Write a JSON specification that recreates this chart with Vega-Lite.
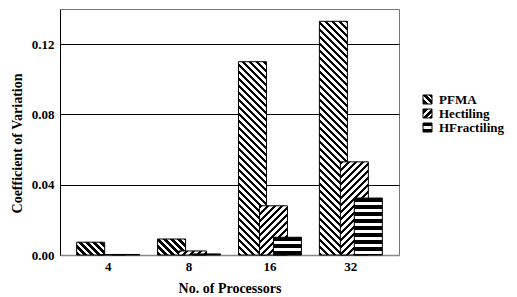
{
  "$schema": "https://vega.github.io/schema/vega-lite/v6.json",
  "width": 339,
  "height": 246,
  "autosize": {"type": "none"},
  "padding": {"left": 60, "top": 9, "right": 118, "bottom": 42},
  "background": "white",
  "config": {
    "font": "Liberation Serif",
    "view": {"stroke": "#777", "strokeWidth": 1},
    "legend": {"rowPadding": 0, "symbolSize": 81}
  },
  "params": [
    {"name": "stripes", "value": [
      {"offset":0,"color":"#000"},{"offset":0.0125,"color":"#000"},{"offset":0.0125,"color":"#fff"},{"offset":0.025,"color":"#fff"},
      {"offset":0.025,"color":"#000"},{"offset":0.0375,"color":"#000"},{"offset":0.0375,"color":"#fff"},{"offset":0.05,"color":"#fff"},
      {"offset":0.05,"color":"#000"},{"offset":0.0625,"color":"#000"},{"offset":0.0625,"color":"#fff"},{"offset":0.075,"color":"#fff"},
      {"offset":0.075,"color":"#000"},{"offset":0.0875,"color":"#000"},{"offset":0.0875,"color":"#fff"},{"offset":0.1,"color":"#fff"},
      {"offset":0.1,"color":"#000"},{"offset":0.1125,"color":"#000"},{"offset":0.1125,"color":"#fff"},{"offset":0.125,"color":"#fff"},
      {"offset":0.125,"color":"#000"},{"offset":0.1375,"color":"#000"},{"offset":0.1375,"color":"#fff"},{"offset":0.15,"color":"#fff"},
      {"offset":0.15,"color":"#000"},{"offset":0.1625,"color":"#000"},{"offset":0.1625,"color":"#fff"},{"offset":0.175,"color":"#fff"},
      {"offset":0.175,"color":"#000"},{"offset":0.1875,"color":"#000"},{"offset":0.1875,"color":"#fff"},{"offset":0.2,"color":"#fff"},
      {"offset":0.2,"color":"#000"},{"offset":0.2125,"color":"#000"},{"offset":0.2125,"color":"#fff"},{"offset":0.225,"color":"#fff"},
      {"offset":0.225,"color":"#000"},{"offset":0.2375,"color":"#000"},{"offset":0.2375,"color":"#fff"},{"offset":0.25,"color":"#fff"},
      {"offset":0.25,"color":"#000"},{"offset":0.2625,"color":"#000"},{"offset":0.2625,"color":"#fff"},{"offset":0.275,"color":"#fff"},
      {"offset":0.275,"color":"#000"},{"offset":0.2875,"color":"#000"},{"offset":0.2875,"color":"#fff"},{"offset":0.3,"color":"#fff"},
      {"offset":0.3,"color":"#000"},{"offset":0.3125,"color":"#000"},{"offset":0.3125,"color":"#fff"},{"offset":0.325,"color":"#fff"},
      {"offset":0.325,"color":"#000"},{"offset":0.3375,"color":"#000"},{"offset":0.3375,"color":"#fff"},{"offset":0.35,"color":"#fff"},
      {"offset":0.35,"color":"#000"},{"offset":0.3625,"color":"#000"},{"offset":0.3625,"color":"#fff"},{"offset":0.375,"color":"#fff"},
      {"offset":0.375,"color":"#000"},{"offset":0.3875,"color":"#000"},{"offset":0.3875,"color":"#fff"},{"offset":0.4,"color":"#fff"},
      {"offset":0.4,"color":"#000"},{"offset":0.4125,"color":"#000"},{"offset":0.4125,"color":"#fff"},{"offset":0.425,"color":"#fff"},
      {"offset":0.425,"color":"#000"},{"offset":0.4375,"color":"#000"},{"offset":0.4375,"color":"#fff"},{"offset":0.45,"color":"#fff"},
      {"offset":0.45,"color":"#000"},{"offset":0.4625,"color":"#000"},{"offset":0.4625,"color":"#fff"},{"offset":0.475,"color":"#fff"},
      {"offset":0.475,"color":"#000"},{"offset":0.4875,"color":"#000"},{"offset":0.4875,"color":"#fff"},{"offset":0.5,"color":"#fff"},
      {"offset":0.5,"color":"#000"},{"offset":0.5125,"color":"#000"},{"offset":0.5125,"color":"#fff"},{"offset":0.525,"color":"#fff"},
      {"offset":0.525,"color":"#000"},{"offset":0.5375,"color":"#000"},{"offset":0.5375,"color":"#fff"},{"offset":0.55,"color":"#fff"},
      {"offset":0.55,"color":"#000"},{"offset":0.5625,"color":"#000"},{"offset":0.5625,"color":"#fff"},{"offset":0.575,"color":"#fff"},
      {"offset":0.575,"color":"#000"},{"offset":0.5875,"color":"#000"},{"offset":0.5875,"color":"#fff"},{"offset":0.6,"color":"#fff"},
      {"offset":0.6,"color":"#000"},{"offset":0.6125,"color":"#000"},{"offset":0.6125,"color":"#fff"},{"offset":0.625,"color":"#fff"},
      {"offset":0.625,"color":"#000"},{"offset":0.6375,"color":"#000"},{"offset":0.6375,"color":"#fff"},{"offset":0.65,"color":"#fff"},
      {"offset":0.65,"color":"#000"},{"offset":0.6625,"color":"#000"},{"offset":0.6625,"color":"#fff"},{"offset":0.675,"color":"#fff"},
      {"offset":0.675,"color":"#000"},{"offset":0.6875,"color":"#000"},{"offset":0.6875,"color":"#fff"},{"offset":0.7,"color":"#fff"},
      {"offset":0.7,"color":"#000"},{"offset":0.7125,"color":"#000"},{"offset":0.7125,"color":"#fff"},{"offset":0.725,"color":"#fff"},
      {"offset":0.725,"color":"#000"},{"offset":0.7375,"color":"#000"},{"offset":0.7375,"color":"#fff"},{"offset":0.75,"color":"#fff"},
      {"offset":0.75,"color":"#000"},{"offset":0.7625,"color":"#000"},{"offset":0.7625,"color":"#fff"},{"offset":0.775,"color":"#fff"},
      {"offset":0.775,"color":"#000"},{"offset":0.7875,"color":"#000"},{"offset":0.7875,"color":"#fff"},{"offset":0.8,"color":"#fff"},
      {"offset":0.8,"color":"#000"},{"offset":0.8125,"color":"#000"},{"offset":0.8125,"color":"#fff"},{"offset":0.825,"color":"#fff"},
      {"offset":0.825,"color":"#000"},{"offset":0.8375,"color":"#000"},{"offset":0.8375,"color":"#fff"},{"offset":0.85,"color":"#fff"},
      {"offset":0.85,"color":"#000"},{"offset":0.8625,"color":"#000"},{"offset":0.8625,"color":"#fff"},{"offset":0.875,"color":"#fff"},
      {"offset":0.875,"color":"#000"},{"offset":0.8875,"color":"#000"},{"offset":0.8875,"color":"#fff"},{"offset":0.9,"color":"#fff"},
      {"offset":0.9,"color":"#000"},{"offset":0.9125,"color":"#000"},{"offset":0.9125,"color":"#fff"},{"offset":0.925,"color":"#fff"},
      {"offset":0.925,"color":"#000"},{"offset":0.9375,"color":"#000"},{"offset":0.9375,"color":"#fff"},{"offset":0.95,"color":"#fff"},
      {"offset":0.95,"color":"#000"},{"offset":0.9625,"color":"#000"},{"offset":0.9625,"color":"#fff"},{"offset":0.975,"color":"#fff"},
      {"offset":0.975,"color":"#000"},{"offset":0.9875,"color":"#000"},{"offset":0.9875,"color":"#fff"},{"offset":1,"color":"#fff"}
    ]}
  ],
  "data": {
    "values": [
      {"processors": 4, "series": "PFMA", "value": 0.0073},
      {"processors": 8, "series": "PFMA", "value": 0.0091},
      {"processors": 16, "series": "PFMA", "value": 0.110},
      {"processors": 32, "series": "PFMA", "value": 0.133},
      {"processors": 4, "series": "Hectiling", "value": 0.0003},
      {"processors": 8, "series": "Hectiling", "value": 0.0023},
      {"processors": 16, "series": "Hectiling", "value": 0.028},
      {"processors": 32, "series": "Hectiling", "value": 0.053},
      {"processors": 4, "series": "HFractiling", "value": 0.0003},
      {"processors": 8, "series": "HFractiling", "value": 0.0006},
      {"processors": 16, "series": "HFractiling", "value": 0.0101},
      {"processors": 32, "series": "HFractiling", "value": 0.0324}
    ]
  },
  "mark": {
    "type": "bar",
    "width": 28,
    "strokeWidth": 1,
    "fill": {"expr": "isString(datum.value)?(datum.value==='PFMA'?{gradient:'linear',x1:0,y1:1,x2:1,y2:0,stops:[{offset:0,color:'#000'},{offset:0.3,color:'#000'},{offset:0.3,color:'#fff'},{offset:0.45,color:'#fff'},{offset:0.45,color:'#000'},{offset:0.68,color:'#000'},{offset:0.68,color:'#fff'},{offset:0.83,color:'#fff'},{offset:0.83,color:'#000'},{offset:1,color:'#000'}]}:datum.value==='Hectiling'?{gradient:'linear',x1:0,y1:0,x2:1,y2:1,stops:[{offset:0,color:'#000'},{offset:0.3,color:'#000'},{offset:0.3,color:'#fff'},{offset:0.45,color:'#fff'},{offset:0.45,color:'#000'},{offset:0.68,color:'#000'},{offset:0.68,color:'#fff'},{offset:0.83,color:'#fff'},{offset:0.83,color:'#000'},{offset:1,color:'#000'}]}:{gradient:'linear',x1:0,y1:0,x2:0,y2:1,stops:[{offset:0,color:'#000'},{offset:0.38,color:'#000'},{offset:0.38,color:'#fff'},{offset:0.62,color:'#fff'},{offset:0.62,color:'#000'},{offset:1,color:'#000'}]}):(datum.series==='HFractiling'?{gradient:'linear',x1:0,y1:0,x2:0,y2:280/max(1,scale('y',0)-scale('y',datum.value)),stops:stripes}:datum.series==='PFMA'?{gradient:'linear',x1:0,y1:1,x2:7840/(784+pow(scale('y',0)-scale('y',datum.value),2)),y2:1-280*(scale('y',0)-scale('y',datum.value))/(784+pow(scale('y',0)-scale('y',datum.value),2)),stops:stripes}:{gradient:'linear',x1:0,y1:0,x2:7840/(784+pow(scale('y',0)-scale('y',datum.value),2)),y2:280*(scale('y',0)-scale('y',datum.value))/(784+pow(scale('y',0)-scale('y',datum.value),2)),stops:stripes})"}
  },
  "encoding": {
    "x": {
      "field": "processors",
      "type": "ordinal",
      "scale": {"paddingInner": 0, "paddingOuter": 0.095},
      "axis": {
        "title": "No. of Processors",
        "labelAngle": 0,
        "ticks": false,
        "labelPadding": 5,
        "labelFont": "Liberation Serif",
        "labelFontSize": 13,
        "labelFontWeight": "bold",
        "labelColor": "#000",
        "domainColor": "#888",
        "domainWidth": 1.5,
        "titleFont": "Liberation Serif",
        "titleFontSize": 14,
        "titleFontWeight": "bold",
        "titleColor": "#000",
        "titleY": 37,
        "titleBaseline": "alphabetic"
      }
    },
    "xOffset": {
      "field": "series",
      "type": "nominal",
      "scale": {"domain": ["a1", "a2", "PFMA", "g1", "g2", "Hectiling", "g3", "HFractiling", "b1", "b2"], "paddingInner": 0, "paddingOuter": 0.79}
    },
    "y": {
      "field": "value",
      "type": "quantitative",
      "stack": null,
      "scale": {"domain": [0, 0.14], "nice": false},
      "axis": {
        "title": "Coefficient of Variation",
        "values": [0, 0.04, 0.08, 0.12],
        "format": ".2f",
        "ticks": false,
        "labelPadding": 6,
        "labelFont": "Liberation Serif",
        "labelFontSize": 13,
        "labelFontWeight": "bold",
        "labelColor": "#000",
        "domainColor": "#000",
        "grid": true,
        "gridColor": {"condition": {"test": "datum.value === 0", "value": "transparent"}, "value": "#000"},
        "gridWidth": 1,
        "titleFont": "Liberation Serif",
        "titleFontSize": 14,
        "titleFontWeight": "bold",
        "titleColor": "#000",
        "titleX": -39,
        "titleY": 134,
        "titleAngle": -90,
        "titleAlign": "center",
        "titleBaseline": "alphabetic"
      }
    },
    "stroke": {
      "field": "series",
      "type": "nominal",
      "scale": {"domain": ["PFMA", "Hectiling", "HFractiling"], "range": ["#000", "#000", "#000"]},
      "legend": {
        "title": null,
        "orient": "none",
        "legendX": 361,
        "legendY": 84,
        "padding": 0,
        "symbolType": "square",
        "symbolStrokeWidth": 1,
        "symbolStrokeColor": "#000",
        "labelFont": "Liberation Serif",
        "labelFontSize": 13,
        "labelFontWeight": "bold",
        "labelColor": "#000",
        "labelOffset": 5
      }
    }
  }
}
